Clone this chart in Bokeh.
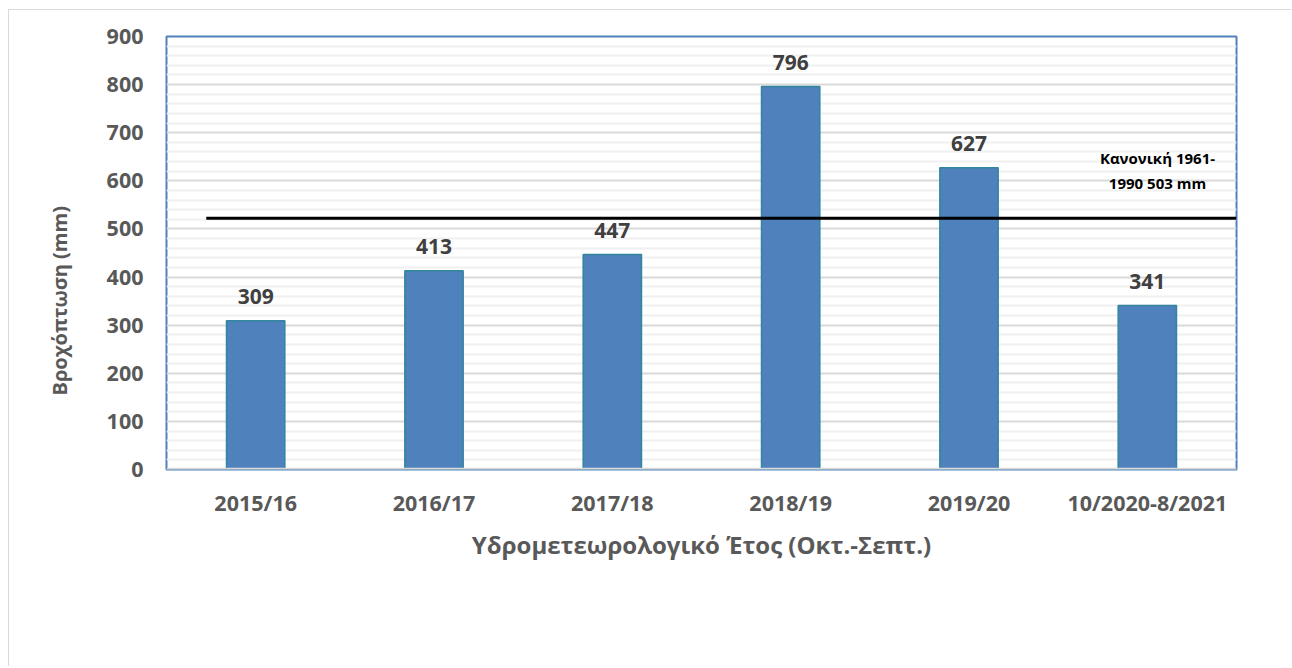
from bokeh.plotting import figure
from bokeh.models import Range1d, FixedTicker, Span, Title
from bokeh.core.properties import value
from bokeh.embed import file_html
from bokeh.resources import INLINE

# ---- data ----
years = ["2015/16", "2016/17", "2017/18", "2018/19", "2019/20", "10/2020-8/2021"]
rainfall = [309, 413, 447, 796, 627, 341]
norm_level = 522
norm_text = ["Κανονική 1961-", "1990 503 mm"]
y_ticks = [0, 100, 200, 300, 400, 500, 600, 700, 800, 900]

FONT = "Open Sans"
GRAY = "#595959"
BLUE = "#4F81BD"

n = len(years)
xs = [i + 0.5 for i in range(n)]

p = figure(width=1282, height=656, frame_width=1070, frame_height=433,
           x_range=Range1d(0, n), y_range=Range1d(0, 900),
           output_backend="svg", toolbar_location=None,
           min_border_left=157, min_border_top=26, min_border_right=55, min_border_bottom=197)
p.styles = {"border-left": "1.5px solid #d9d9d9", "border-top": "1.5px solid #d9d9d9",
            "margin-left": "8px", "margin-top": "9px"}
p.outline_line_color = BLUE
p.outline_line_width = 2
p.background_fill_color = "white"
p.border_fill_color = "white"

# grid
p.xgrid.grid_line_color = None
minor = [v for v in range(0, 901, 20) if v % 100 != 0]
p.yaxis.ticker = FixedTicker(ticks=y_ticks, minor_ticks=minor)
p.ygrid.grid_line_color = "#d9d9d9"
p.ygrid.grid_line_width = 2
p.ygrid.minor_grid_line_color = "#f0f0f0"
p.ygrid.minor_grid_line_width = 2

# bars
p.vbar(x=xs, top=rainfall, width=0.327, bottom=0, fill_color=BLUE,
       line_color="#31859C", line_width=1.5)

# value labels
p.text(x=xs, y=rainfall, text=[str(v) for v in rainfall], text_align="center",
       text_baseline="middle", y_offset=-24, text_font=value(FONT),
       text_font_style="bold", text_font_size="21px", text_color="#404040")

# normal line
p.segment(x0=[0.223], x1=[n], y0=[norm_level], y1=[norm_level],
          line_color="black", line_width=3)
p.text(x=[5.557, 5.557], y=[647, 595], text=norm_text, text_align="center",
       text_baseline="middle", text_font=value(FONT), text_font_style="bold",
       text_font_size="15px", text_color="black")

# bottom border (gray axis line)
p.add_layout(Span(location=0, dimension="width", line_color="#d9d9d9", line_width=3.5))

# axes
p.xaxis.ticker = FixedTicker(ticks=xs)
p.xaxis.major_label_overrides = {x: y for x, y in zip(xs, years)}
for ax in (p.xaxis, p.yaxis):
    ax.axis_line_color = None
    ax.major_tick_line_color = None
    ax.minor_tick_line_color = None
    ax.major_label_text_font = FONT
    ax.major_label_text_font_style = "bold"
    ax.major_label_text_font_size = "21.5px"
    ax.major_label_text_color = GRAY
    ax.axis_label_text_font = FONT
    ax.axis_label_text_font_style = "bold"
    ax.axis_label_text_color = GRAY
p.xaxis.axis_label_text_font_size = "24px"
p.xaxis.major_label_standoff = 12
p.yaxis.major_label_standoff = 17
p.xaxis.axis_label = "Υδρομετεωρολογικό Έτος (Οκτ.-Σεπτ.)"
p.xaxis.axis_label_standoff = 8

# y-axis title (placed lower than the frame centre, as in the original)
ytitle = Title(text="Βροχόπτωση (mm)", align="left", offset=74, standoff=62,
               text_font=FONT, text_font_style="bold", text_font_size="20px",
               text_color=GRAY)
p.add_layout(ytitle, "left")

open("out.html", "w").write(file_html(p, INLINE))
